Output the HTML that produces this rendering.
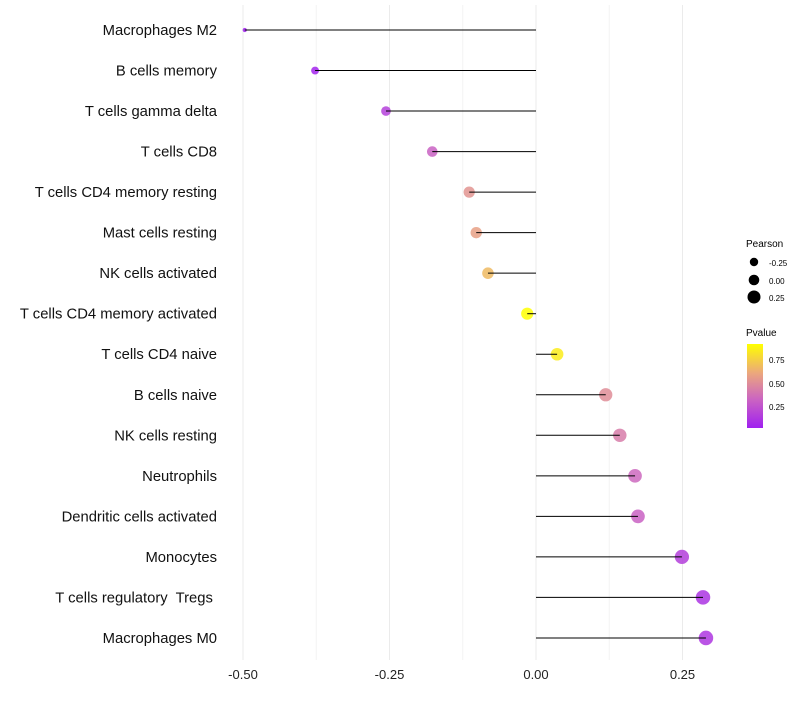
<!DOCTYPE html>
<html><head><meta charset="utf-8"><style>
body{margin:0;background:#fff;}
svg text{font-family:"Liberation Sans",sans-serif;}
</style></head><body>
<svg id="c" width="800" height="700" xmlns="http://www.w3.org/2000/svg">
<defs><linearGradient id="pg" x1="0" y1="1" x2="0" y2="0">
<stop offset="0" stop-color="#a020f0"/><stop offset="0.35" stop-color="#cc66c0"/><stop offset="0.65" stop-color="#eba67e"/><stop offset="1" stop-color="#ffff00"/></linearGradient></defs>
<g id="grid"></g><g id="marks"></g><g id="axes"></g>
<g>
<text x="746" y="247" font-size="10">Pearson</text>
<circle cx="754" cy="262" r="4.2" fill="#000"/>
<text x="769" y="266" font-size="8">-0.25</text>
<circle cx="754" cy="280" r="5.3" fill="#000"/>
<text x="769" y="284" font-size="8">0.00</text>
<circle cx="754" cy="297" r="6.5" fill="#000"/>
<text x="769" y="301" font-size="8">0.25</text>
<text x="746" y="336" font-size="10">Pvalue</text>
<rect x="747" y="344" width="16" height="84" fill="url(#pg)"/>
<text x="769" y="363" font-size="8">0.75</text>
<text x="769" y="387" font-size="8">0.50</text>
<text x="769" y="410" font-size="8">0.25</text>
</g>
</svg>
<script>
const cells=["Macrophages M2","B cells memory","T cells gamma delta","T cells CD8","T cells CD4 memory resting","Mast cells resting","NK cells activated","T cells CD4 memory activated","T cells CD4 naive","B cells naive","NK cells resting","Neutrophils","Dendritic cells activated","Monocytes","T cells regulatory  Tregs\u00a0","Macrophages M0"];
const pearson=[-0.497,-0.377,-0.256,-0.177,-0.114,-0.102,-0.082,-0.015,0.036,0.119,0.143,0.169,0.174,0.249,0.285,0.290];
const pvalue=[0.03,0.05,0.18,0.33,0.55,0.6,0.7,0.95,0.88,0.52,0.45,0.36,0.33,0.17,0.12,0.13];
const xTicks=[-0.5,-0.25,0,0.25];
const xTickLabels=["-0.50","-0.25","0.00","0.25"];
const NS="http://www.w3.org/2000/svg";
const x=v=>536+v*586;
const y=i=>30+i*40.53;
const r=p=>1.8+5.5*Math.sqrt(Math.max(0,(p+0.5)/0.8));
function col(p){const t=Math.max(0,Math.min(1,(p-0.03)/0.92));
const s=[[0,[160,32,240]],[0.35,[204,102,192]],[0.65,[235,166,126]],[1,[255,255,0]]];
for(let k=1;k<s.length;k++){if(t<=s[k][0]){const a=s[k-1],b=s[k],f=(t-a[0])/(b[0]-a[0]);
return "rgb("+a[1].map((c,j)=>Math.round(c+(b[1][j]-c)*f)).join(",")+")";}}return "rgb(255,255,0)";}
function mk(g,tag,at){const e=document.createElementNS(NS,tag);for(const k in at)e.setAttribute(k,at[k]);g.appendChild(e);return e;}
const grid=document.getElementById('grid'),marks=document.getElementById('marks'),axes=document.getElementById('axes');
for(let v=-0.5;v<=0.3;v+=0.125){const l=mk(grid,'line',{x1:x(v),x2:x(v),y1:5,y2:660,stroke:Math.abs((v*4)%1)<1e-6?'#ebebeb':'#f4f4f4','stroke-width':1});

}
xTicks.forEach((v,i)=>{const t=mk(axes,'text',{x:x(v),y:679,'font-size':13,'text-anchor':'middle',fill:'#222'});t.textContent=xTickLabels[i];

});
cells.forEach((c,i)=>{const t=mk(axes,'text',{x:217,y:y(i)+5,'font-size':14.8,'text-anchor':'end',fill:'#111'});t.setAttribute('xml:space','preserve');t.style.whiteSpace='pre';t.textContent=c;


const d=mk(marks,'circle',{cx:x(pearson[i]),cy:y(i),r:r(pearson[i]),fill:col(pvalue[i]),'fill-opacity':0.85});


const l=mk(marks,'line',{x1:x(0),x2:x(pearson[i]),y1:y(i),y2:y(i),stroke:'#000','stroke-width':1});

});
</script>
</body></html>
